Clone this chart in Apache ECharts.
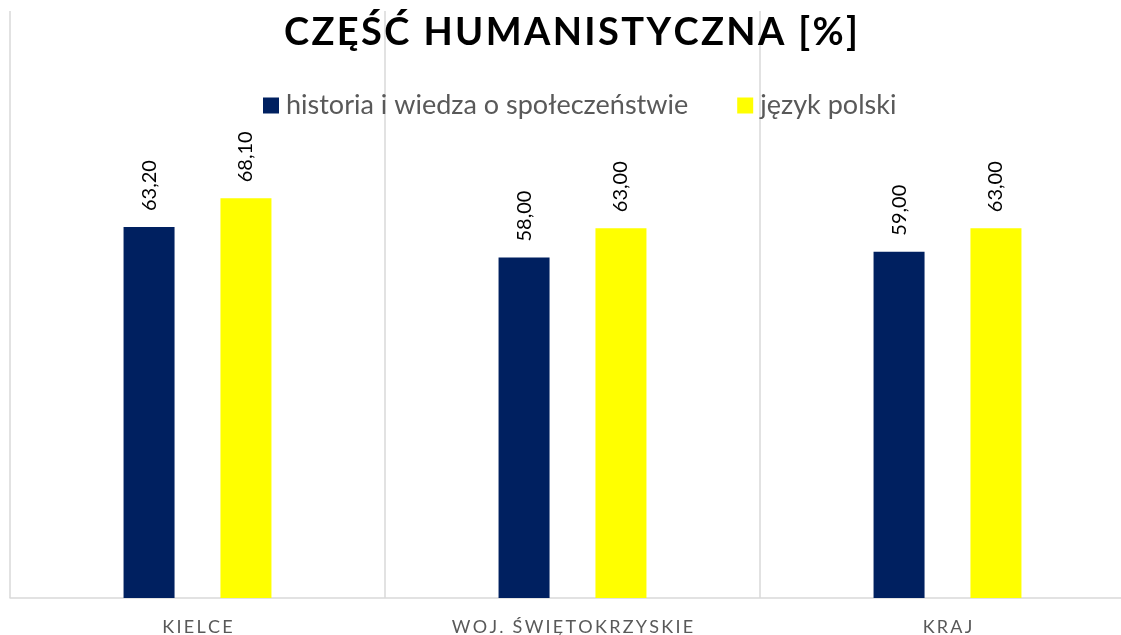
<!DOCTYPE html>
<html>
<head>
<meta charset="utf-8">
<script src="https://cdn.jsdelivr.net/npm/echarts@6/dist/echarts.min.js"></script>
<style>
  html, body { margin: 0; padding: 0; background: #fff; }
  #chart { width: 1121px; height: 635px; }
</style>
</head>
<body>
<div id="chart"></div>
<script>
const titleText = 'CZĘŚĆ HUMANISTYCZNA [%]'
const categories = ['KIELCE', 'WOJ. ŚWIĘTOKRZYSKIE', 'KRAJ']
const seriesNames = ['historia i wiedza o społeczeństwie', 'język polski']
const historiaValues = [63.2, 58.0, 59.0]
const polskiValues = [68.1, 63.0, 63.0]
const colors = ['#002060', '#ffff00']

// rozstrzelony tekst (jak w Excelu)
const spaced = (s, sep) => s.split('').join(sep)

const chart = echarts.init(document.getElementById('chart'))

const labelOpt = {
  show: true,
  position: 'top',
  rotate: 90,
  align: 'left',
  verticalAlign: 'middle',
  distance: 16,
  color: '#000',
  fontFamily: 'Lato',
  fontSize: 20,
  formatter: (p) => p.value.toFixed(2).replace('.', ',')
}

const option = {
  animation: false,
  color: colors,
  title: {
    text: spaced(titleText, '\u200A'),
    left: 566,
    textAlign: 'center',
    top: 9,
    textStyle: {
      fontFamily: 'Lato',
      fontWeight: 'bold',
      fontSize: 38,
      color: '#000'
    }
  },
  legend: {
    top: 87,
    left: 258,
    itemWidth: 16,
    itemHeight: 16,
    itemGap: 49,
    icon: 'rect',
    textStyle: {
      fontFamily: 'Lato',
      fontSize: 27,
      color: '#595959',
      padding: [0, 0, 0, 2]
    },
    data: seriesNames
  },
  grid: {
    left: 10,
    right: -14,
    top: 11,
    bottom: 37,
    outerBoundsMode: 'none'
  },
  xAxis: {
    type: 'category',
    data: categories,
    axisTick: { show: false },
    axisLine: { lineStyle: { color: '#d9d9d9', width: 1.5 } },
    splitLine: { show: true, lineStyle: { color: '#d9d9d9', width: 1.5 } },
    axisLabel: {
      margin: 20,
      fontFamily: 'Lato',
      fontSize: 18,
      color: '#595959',
      formatter: (v) => spaced(v, '\u2009')
    }
  },
  yAxis: {
    type: 'value',
    min: 0,
    max: 100,
    show: false,
    splitLine: { show: false }
  },
  series: [
    {
      name: seriesNames[0],
      type: 'bar',
      data: historiaValues,
      barWidth: 51,
      barGap: '90%',
      label: labelOpt
    },
    {
      name: seriesNames[1],
      type: 'bar',
      data: polskiValues,
      barWidth: 51,
      barGap: '90%',
      label: labelOpt
    }
  ]
}

chart.setOption(option)
</script>
</body>
</html>
